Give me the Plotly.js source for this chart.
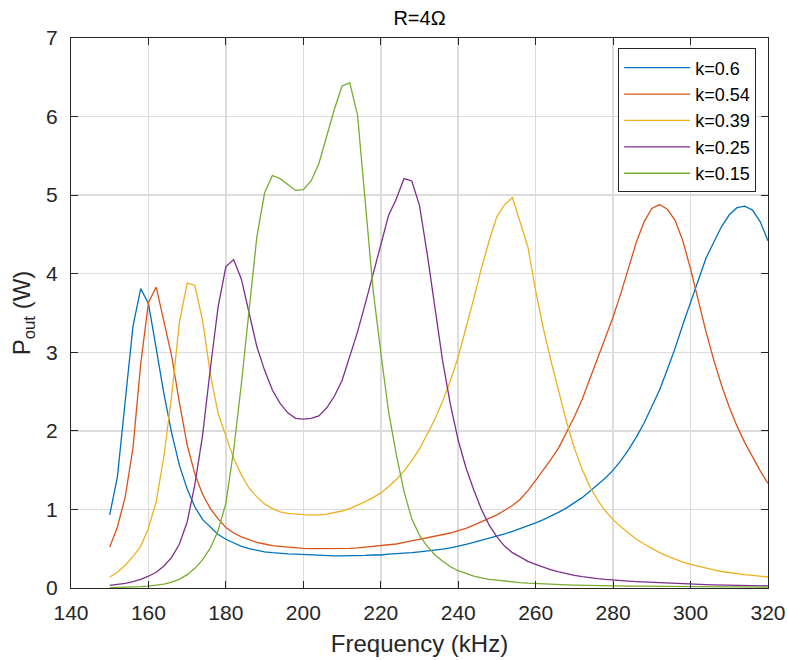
<!DOCTYPE html>
<html>
<head>
<meta charset="utf-8">
<script src="https://cdn.plot.ly/plotly-3.0.1.min.js"></script>
<style>
  html, body { margin: 0; padding: 0; background: #ffffff; }
  #chart { width: 787px; height: 660px; }
</style>
</head>
<body>
<div id="chart"></div>
<script>
// Frequency samples (kHz)
const freq = [150,152,154,156,158,160,162,164,166,168,170,172,174,176,178,180,182,184,186,188,
              190,192,194,196,198,200,202,204,206,208,210,212,214,216,218,220,222,224,226,228,
              230,232,234,236,238,240,242,244,246,248,250,252,254,256,258,260,262,264,266,268,
              270,272,274,276,278,280,282,284,286,288,290,292,294,296,298,300,302,304,306,308,
              310,312,314,316,318,320];

const seriesNames = ["k=0.6", "k=0.54", "k=0.39", "k=0.25", "k=0.15"];

// P_out (W) for each coupling coefficient
const p_k060 = [0.93,1.42,2.38,3.33,3.81,3.62,3.05,2.47,1.97,1.56,1.26,1.03,0.87,0.77,0.68,0.62,0.57,0.53,0.50,0.48,
                0.46,0.45,0.44,0.435,0.43,0.425,0.42,0.415,0.41,0.41,0.41,0.41,0.41,0.415,0.42,0.42,0.43,0.435,0.44,0.45,
                0.46,0.47,0.48,0.495,0.51,0.53,0.555,0.58,0.605,0.63,0.66,0.69,0.72,0.755,0.79,0.83,0.87,0.915,0.965,1.02,
                1.08,1.15,1.23,1.31,1.40,1.50,1.62,1.76,1.92,2.10,2.30,2.52,2.78,3.05,3.35,3.64,3.93,4.20,4.40,4.60,
                4.75,4.84,4.86,4.81,4.66,4.42];

const p_k054 = [0.52,0.78,1.16,1.78,2.85,3.63,3.83,3.41,2.95,2.36,1.82,1.45,1.19,1.01,0.88,0.77,0.70,0.65,0.61,0.58,
                0.56,0.54,0.53,0.52,0.51,0.505,0.50,0.50,0.50,0.50,0.50,0.505,0.51,0.52,0.525,0.535,0.55,0.56,0.58,0.60,
                0.62,0.64,0.66,0.68,0.70,0.73,0.76,0.80,0.84,0.88,0.93,0.99,1.05,1.13,1.24,1.37,1.50,1.64,1.79,1.98,
                2.18,2.40,2.66,2.92,3.18,3.45,3.75,4.08,4.40,4.66,4.83,4.88,4.82,4.68,4.42,4.06,3.66,3.26,2.90,2.58,
                2.30,2.06,1.85,1.66,1.49,1.33];

const p_k039 = [0.14,0.20,0.29,0.40,0.53,0.76,1.10,1.68,2.45,3.38,3.88,3.85,3.40,2.72,2.22,1.92,1.65,1.44,1.27,1.16,
                1.07,1.01,0.97,0.95,0.94,0.935,0.93,0.93,0.94,0.96,0.98,1.01,1.05,1.10,1.15,1.21,1.29,1.38,1.49,1.62,
                1.77,1.95,2.15,2.38,2.64,2.94,3.30,3.68,4.07,4.42,4.73,4.88,4.97,4.66,4.34,3.78,3.30,2.88,2.48,2.11,
                1.78,1.51,1.29,1.12,0.98,0.87,0.78,0.70,0.62,0.56,0.50,0.45,0.405,0.365,0.33,0.30,0.275,0.25,0.23,0.21,
                0.195,0.18,0.17,0.16,0.15,0.14];

const p_k025 = [0.034,0.045,0.06,0.08,0.11,0.15,0.20,0.28,0.39,0.56,0.84,1.32,1.95,2.80,3.58,4.09,4.18,3.93,3.48,3.07,
                2.77,2.52,2.35,2.23,2.16,2.15,2.16,2.19,2.29,2.44,2.64,2.95,3.26,3.62,3.99,4.39,4.74,4.95,5.21,5.18,
                4.87,4.25,3.55,2.88,2.33,1.88,1.53,1.25,1.00,0.80,0.65,0.53,0.45,0.39,0.34,0.30,0.26,0.23,0.205,0.18,
                0.16,0.145,0.13,0.12,0.11,0.10,0.093,0.087,0.081,0.076,0.071,0.066,0.062,0.058,0.054,0.050,0.047,0.044,0.041,0.039,
                0.037,0.035,0.033,0.031,0.029,0.027];

const p_k015 = [0.005,0.007,0.01,0.013,0.018,0.025,0.035,0.05,0.075,0.11,0.17,0.25,0.36,0.51,0.73,1.08,1.75,2.60,3.54,4.47,
                5.03,5.25,5.21,5.13,5.06,5.07,5.18,5.40,5.75,6.09,6.39,6.43,6.02,4.96,3.80,3.00,2.25,1.70,1.23,0.88,
                0.67,0.53,0.42,0.34,0.27,0.22,0.18,0.15,0.13,0.11,0.10,0.087,0.077,0.069,0.062,0.056,0.051,0.047,0.043,0.040,
                0.037,0.034,0.032,0.030,0.028,0.026,0.025,0.024,0.023,0.022,0.021,0.020,0.019,0.018,0.017,0.016,0.016,0.015,0.014,0.014,
                0.013,0.012,0.012,0.011,0.011,0.010];

const xTicks = [140,160,180,200,220,240,260,280,300,320];
const yTicks = [0,1,2,3,4,5,6,7];

const colors = ["#0072BD", "#D95319", "#EDB120", "#7E2F8E", "#77AC30"];
const allSeries = [p_k060, p_k054, p_k039, p_k025, p_k015];

const traces = allSeries.map((ys, i) => ({
  x: freq,
  y: ys,
  type: "scatter",
  mode: "lines",
  name: seriesNames[i],
  line: { color: colors[i], width: 1.3 }
}));

const fontFam = "Liberation Sans, Arial, Helvetica, sans-serif";
const axisCommon = {
  showline: true,
  linecolor: "#262626",
  linewidth: 1,
  mirror: "allticks",
  ticks: "inside",
  ticklen: 7,
  tickwidth: 1,
  tickcolor: "#262626",
  showgrid: true,
  gridcolor: "#dcdcdc",
  gridwidth: 1.5,
  zeroline: false,
  tickfont: { family: fontFam, size: 21, color: "#262626" }
};

const layout = {
  width: 787,
  height: 660,
  margin: { l: 71, r: 19, t: 38, b: 72 },
  paper_bgcolor: "#ffffff",
  plot_bgcolor: "#ffffff",
  title: {
    text: "R=4Ω",
    font: { family: fontFam, size: 20, color: "#000000" },
    x: 0.5, xref: "paper", xanchor: "center",
    y: 1 - 18 / 660, yref: "container", yanchor: "middle"
  },
  xaxis: Object.assign({}, axisCommon, {
    range: [140, 320],
    tickmode: "array",
    tickvals: xTicks,
    ticktext: xTicks.map(String),
    ticklabelstandoff: 6,
    title: { text: "Frequency (kHz)", font: { family: fontFam, size: 24, color: "#262626" }, standoff: 11 }
  }),
  yaxis: Object.assign({}, axisCommon, {
    range: [0, 7],
    tickmode: "array",
    tickvals: yTicks,
    ticktext: yTicks.map(String),
    ticklabelstandoff: 8,
    title: { text: "P<sub>out</sub> (W)", font: { family: fontFam, size: 24, color: "#262626" }, standoff: 8 }
  }),
  showlegend: true,
  legend: {
    x: 0.983, y: 0.981, xanchor: "right", yanchor: "top",
    bgcolor: "#ffffff",
    bordercolor: "#262626",
    borderwidth: 1,
    itemwidth: 66,
    tracegroupgap: 0,
    font: { family: fontFam, size: 18, color: "#000000" }
  }
};

Plotly.newPlot("chart", traces, layout, { displayModeBar: false, staticPlot: true });
</script>
</body>
</html>
